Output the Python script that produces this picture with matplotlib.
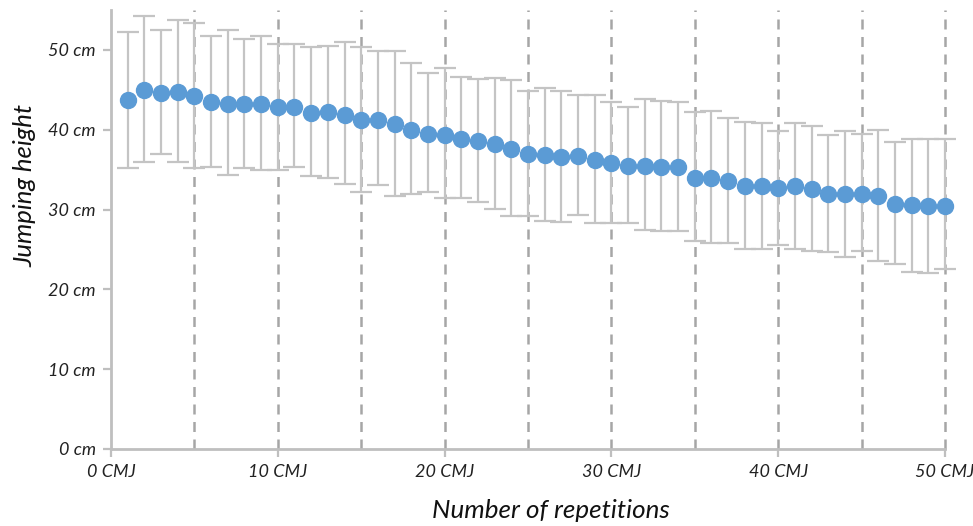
import matplotlib.pyplot as plt

# repetition number 1..50
reps = list(range(1, 51))

# mean jumping height (cm)
mean_height = [43.7, 45.0, 44.6, 44.7, 44.2, 43.5, 43.2, 43.2, 43.2, 42.8,
               42.9, 42.1, 42.2, 41.9, 41.2, 41.2, 40.7, 40.0, 39.5, 39.4,
               38.9, 38.6, 38.2, 37.6, 36.9, 36.8, 36.6, 36.7, 36.2, 35.8,
               35.4, 35.5, 35.3, 35.3, 34.0, 34.0, 33.6, 33.0, 32.9, 32.7,
               33.0, 32.6, 31.9, 31.9, 32.0, 31.7, 30.7, 30.6, 30.4, 30.5]

# top of error bar (cm)
upper = [52.3, 54.2, 52.5, 53.7, 53.4, 51.8, 52.5, 51.4, 51.8, 50.8,
         50.7, 50.4, 50.5, 51.0, 50.4, 49.8, 49.9, 48.3, 47.1, 47.7,
         46.6, 46.4, 46.5, 46.2, 44.9, 45.2, 44.8, 44.3, 44.3, 43.5,
         42.8, 43.8, 43.6, 43.5, 42.2, 42.3, 41.5, 41.0, 40.9, 39.9,
         40.9, 40.5, 39.3, 39.9, 39.5, 40.0, 38.4, 38.9, 38.8, 38.8]

# bottom of error bar (cm)
lower = [35.2, 36.0, 37.0, 35.9, 35.2, 35.3, 34.3, 35.2, 35.0, 34.9,
         35.3, 34.2, 34.0, 33.2, 32.2, 33.1, 31.7, 31.9, 32.2, 31.4,
         31.4, 30.9, 30.1, 29.2, 29.2, 28.6, 28.4, 29.3, 28.3, 28.3,
         28.3, 27.4, 27.3, 27.3, 26.1, 25.8, 25.8, 25.1, 25.1, 25.5,
         25.1, 24.8, 24.7, 24.1, 24.8, 23.5, 23.2, 22.2, 22.0, 22.5]

x_ticks = [0, 10, 20, 30, 40, 50]
x_labels = ["0 CMJ", "10 CMJ", "20 CMJ", "30 CMJ", "40 CMJ", "50 CMJ"]
y_ticks = [0, 10, 20, 30, 40, 50]
y_labels = ["0 cm", "10 cm", "20 cm", "30 cm", "40 cm", "50 cm"]
# dashed separators every 5 repetitions
block_edges = [5, 10, 15, 20, 25, 30, 35, 40, 45, 50]

plt.rcParams['font.family'] = ['Lato', 'DejaVu Sans']

fig = plt.figure(figsize=(9.73, 5.26), dpi=100)
ax = fig.add_axes([0.1141, 0.1464, 0.8571, 0.8346])

err_low = [m - l for m, l in zip(mean_height, lower)]
err_high = [u - m for m, u in zip(mean_height, upper)]

ax.vlines(block_edges, 0, 55, colors='#a6a6a6', linestyles=(0, (4, 3)),
          linewidth=1.8, zorder=1, clip_on=False)

ax.errorbar(reps, mean_height, yerr=[err_low, err_high], fmt='o',
            color='#5b9bd5', markersize=11.5, ecolor='#c4c4c4',
            elinewidth=1.6, capsize=8, capthick=1.6, zorder=3,
            clip_on=False)

ax.set_xlim(0, 50)
ax.set_ylim(0, 55)

ax.set_xticks(x_ticks)
ax.set_xticklabels(x_labels, fontsize=13, style='italic', color='#222222')
ax.set_yticks(y_ticks)
ax.set_yticklabels(y_labels, fontsize=13, style='italic', color='#222222')

ax.tick_params(axis='both', which='major', color='#bfbfbf', width=1.6, length=6)
ax.tick_params(axis='x', pad=5)
ax.tick_params(axis='y', pad=5)

for side in ['top', 'right']:
    ax.spines[side].set_visible(False)
for side in ['left', 'bottom']:
    ax.spines[side].set_color('#bfbfbf')
    ax.spines[side].set_linewidth(2)

ax.set_xlabel("Number of repetitions", fontsize=18.7, style='italic',
              color='#111111', va='center')
ax.set_ylabel("Jumping height", fontsize=18.5, style='italic',
              color='#111111', va='center')
ax.xaxis.set_label_coords(0.5276, -0.141)
ax.yaxis.set_label_coords(-0.103, 0.601)

fig.savefig("out.png", dpi=100)
